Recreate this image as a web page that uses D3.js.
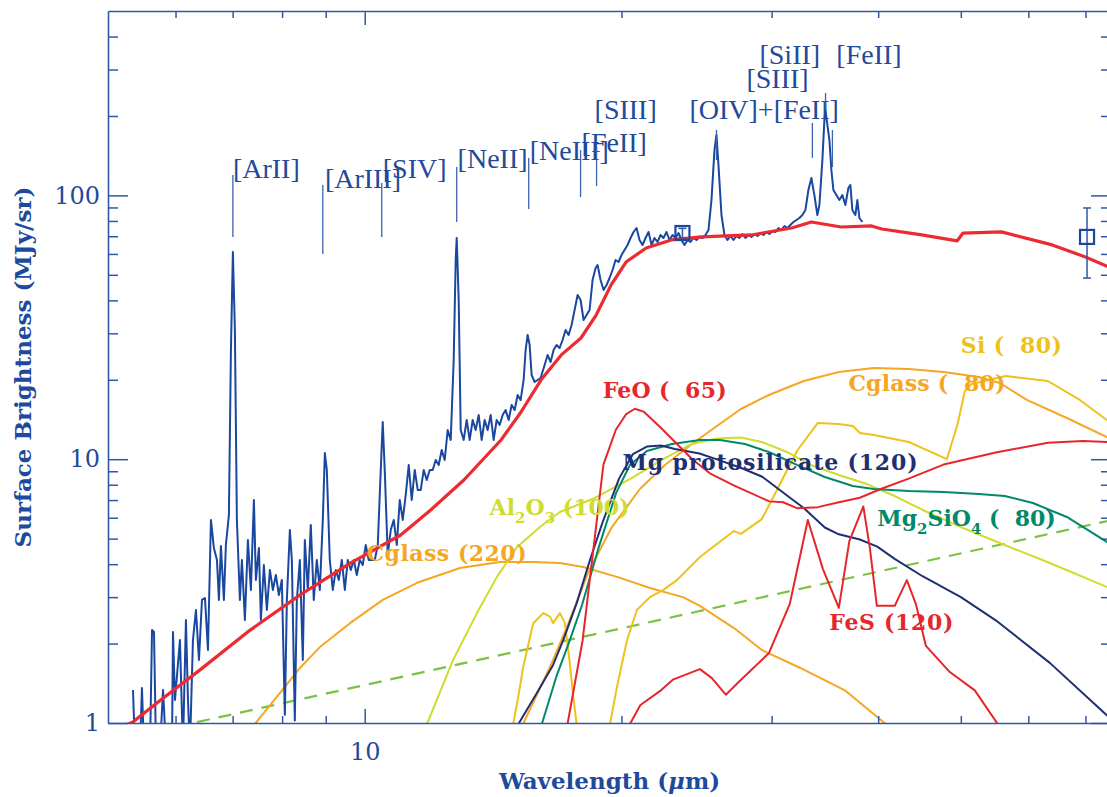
<!DOCTYPE html>
<html>
<head>
<meta charset="utf-8">
<script src="https://cdn.jsdelivr.net/npm/d3@7"></script>
<style>
body { margin: 0; background: #fff; }
svg { display: block; }
</style>
</head>
<body>
<svg id="chart" width="1107" height="797"></svg>
<script>
// observed spectrum [wavelength um, MJy/sr]
var spectrum = [[5.349,1.334],[5.378,0.8],[5.451,0.8],[5.480,1.357],[5.510,0.8],[5.601,0.8],[5.631,2.252],[5.661,2.213],[5.692,0.8],[5.754,0.8],[5.801,1.334],[5.848,0.8],[5.943,0.8],[5.959,2.213],[5.991,1.222],[6.072,2.063],[6.121,0.8],[6.171,2.457],[6.205,1.222],[6.238,0.8],[6.289,2.063],[6.340,2.681],[6.392,1.733],[6.444,2.927],[6.496,2.978],[6.549,1.891],[6.602,5.883],[6.655,4.608],[6.710,4.150],[6.746,2.927],[6.782,4.690],[6.837,2.927],[6.874,4.731],[6.930,6.146],[6.968,25.94],[7.005,61.0],[7.043,30.89],[7.081,5.883],[7.139,2.927],[7.178,4.150],[7.236,2.457],[7.295,4.942],[7.354,3.194],[7.414,7.005],[7.454,3.485],[7.515,4.608],[7.555,2.457],[7.616,3.973],[7.678,2.681],[7.741,3.803],[7.804,3.194],[7.867,3.641],[7.931,3.057],[7.995,3.485],[8.060,1.074],[8.104,2.927],[8.170,5.392],[8.214,4.150],[8.280,1.023],[8.325,2.927],[8.393,4.150],[8.461,1.733],[8.507,4.942],[8.576,3.194],[8.645,5.632],[8.715,2.927],[8.786,4.150],[8.858,3.194],[8.930,5.883],[8.979,10.56],[9.027,9.102],[9.100,4.150],[9.174,3.194],[9.248,3.803],[9.324,3.485],[9.400,4.150],[9.477,3.194],[9.553,4.150],[9.631,3.803],[9.709,4.150],[9.788,3.641],[9.867,4.150],[9.947,3.973],[10.028,4.731],[10.110,4.150],[10.192,4.150],[10.275,4.150],[10.359,4.731],[10.442,9.102],[10.498,13.84],[10.555,9.102],[10.641,4.335],[10.728,5.392],[10.815,5.883],[10.904,4.731],[10.992,7.005],[11.081,5.883],[11.171,7.318],[11.262,9.507],[11.353,7.005],[11.445,9.102],[11.538,7.644],[11.632,7.644],[11.727,9.102],[11.823,8.341],[11.918,9.102],[12.015,9.102],[12.113,9.930],[12.211,9.507],[12.310,10.84],[12.410,9.930],[12.511,12.90],[12.613,11.83],[12.715,23.77],[12.784,56.89],[12.819,68.94],[12.888,40.13],[12.958,12.90],[13.063,11.83],[13.169,14.08],[13.276,11.83],[13.384,14.08],[13.492,12.90],[13.602,14.71],[13.713,11.83],[13.824,14.08],[13.936,12.90],[14.050,14.71],[14.164,11.83],[14.279,14.08],[14.395,13.48],[14.512,14.71],[14.630,15.37],[14.749,14.08],[14.869,16.05],[14.990,15.37],[15.111,17.51],[15.234,16.76],[15.358,19.97],[15.441,25.94],[15.525,29.57],[15.609,27.09],[15.693,20.85],[15.820,19.62],[15.949,19.97],[16.078,20.32],[16.253,22.76],[16.385,24.83],[16.518,23.36],[16.652,25.94],[16.787,27.09],[16.924,26.39],[17.061,28.30],[17.200,30.89],[17.340,29.57],[17.481,32.26],[17.623,36.78],[17.767,41.92],[17.911,40.13],[18.057,33.70],[18.203,35.21],[18.351,36.78],[18.500,47.78],[18.651,53.06],[18.752,54.46],[18.904,47.78],[19.058,43.79],[19.213,45.74],[19.368,48.62],[19.525,52.14],[19.684,56.89],[19.844,55.91],[20.005,59.43],[20.167,62.08],[20.331,64.85],[20.497,68.94],[20.664,72.64],[20.832,75.22],[21.001,67.74],[21.172,64.85],[21.344,68.94],[21.518,72.64],[21.692,64.85],[21.868,68.94],[22.045,66.57],[22.225,70.76],[22.405,68.94],[22.587,72.64],[22.771,67.74],[22.956,70.76],[23.143,68.94],[23.331,72.01],[23.521,67.74],[23.712,64.85],[23.905,67.74],[24.099,66.57],[24.295,68.94],[24.493,67.74],[24.691,69.53],[24.892,68.94],[25.095,70.76],[25.299,73.92],[25.503,96.06],[25.710,148.6],[25.849,169.4],[25.989,130.4],[26.201,84.26],[26.413,70.76],[26.628,67.74],[26.844,70.15],[27.062,67.74],[27.282,70.15],[27.504,68.94],[27.727,71.39],[27.953,68.94],[28.180,70.76],[28.410,69.53],[28.641,71.39],[28.873,70.15],[29.108,72.01],[29.345,70.76],[29.583,72.64],[29.823,71.39],[30.066,73.27],[30.310,72.64],[30.556,75.22],[30.804,73.92],[31.055,76.55],[31.307,75.22],[31.561,77.22],[31.818,79.27],[32.076,80.67],[32.337,82.09],[32.599,84.26],[32.864,88.01],[33.131,104.8],[33.400,116.4],[33.671,100.3],[33.944,84.26],[34.130,91.96],[34.407,136.2],[34.593,193.2],[34.686,210.7],[34.874,184.9],[35.063,162.2],[35.253,124.8],[35.443,104.8],[35.731,100.3],[36.022,96.06],[36.314,100.3],[36.609,91.96],[36.907,106.6],[37.107,109.5],[37.307,88.01],[37.611,84.26],[37.814,96.06],[38.019,82.09],[38.327,79.27]]

// total dust model
var totalModel = [[5.2,0.97],[5.35,1.01],[5.76,1.22],[6.41,1.59],[7.34,2.25],[8.40,3.06],[9.62,4.04],[11.02,5.16],[11.95,6.42],[13.07,8.34],[14.44,11.8],[15.25,15.1],[16.10,20.0],[16.99,24.8],[17.93,28.8],[18.68,35.2],[19.45,45.8],[20.25,55.9],[21.38,63.2],[22.88,67.8],[24.81,69.6],[28.4,70.8],[31.66,75.2],[33.4,79.3],[36.2,75.9],[39.3,76.6],[40.4,74.6],[45.0,70.8],[49.5,67.2],[50.3,72.0],[55.8,72.7],[64.0,64.9],[70.0,58.4],[75.0,53.1]]

// dust components
var feo = [[17.25,0.95],[18.01,2.06],[19.05,9.54],[19.70,12.93],[20.26,14.83],[20.74,15.53],[21.23,15.15],[22.26,13.13],[23.33,11.27],[24.23,9.98],[25.39,8.84],[27.12,7.94],[29.81,6.92],[30.94,6.87],[32.13,6.52],[33.99,6.58],[35.97,6.87],[38.07,7.14],[40.28,7.71],[43.43,8.44],[47.72,9.54],[54.95,10.61],[63.28,11.55],[69.55,11.73],[75,11.6]]
var mgProto = [[15.14,0.99],[15.91,1.296],[16.63,1.66],[17.09,2.06],[17.72,2.84],[18.37,4.15],[19.03,5.83],[19.87,8.44],[20.63,10.46],[21.42,11.17],[22.25,11.27],[23.11,10.93],[24.69,10.51],[25.88,9.98],[27.64,9.26],[29.25,8.58],[30.94,7.48],[32.74,6.52],[34.63,5.51],[35.97,5.19],[38.07,4.96],[39.90,4.66],[41.82,4.19],[45.09,3.60],[50.01,3.00],[54.95,2.45],[63.58,1.69],[74.15,1.07],[75,1.04]]
var mg2sio4 = [[16.13,0.99],[16.80,1.52],[17.40,2.06],[17.98,2.80],[18.77,4.53],[19.71,7.44],[20.46,9.51],[21.42,10.74],[22.92,11.42],[24.72,11.82],[26.09,11.82],[27.91,11.42],[29.78,10.65],[32.12,9.51],[34.63,8.56],[37.36,7.91],[39.54,7.71],[43.45,7.58],[47.75,7.51],[52.49,7.38],[56.30,7.25],[60.73,6.82],[66.57,6.04],[74.15,4.86],[75,4.75]]
var al2o3 = [[11.83,0.99],[12.69,1.73],[13.54,2.61],[14.29,3.58],[15.09,4.65],[16.05,5.53],[16.94,6.31],[18.62,7.13],[20.46,8.41],[22.49,10.10],[24.19,11.42],[25.88,11.98],[27.61,12.09],[29.22,11.62],[31.26,10.65],[33.36,9.51],[35.97,8.71],[38.80,8.05],[41.83,7.25],[45.12,6.42],[50.01,5.53],[55.54,4.81],[63.58,4.04],[74.15,3.28],[75,3.22]]
var si80 = [[19.39,0.99],[19.76,1.37],[20.30,2.06],[20.85,2.68],[21.60,3.00],[22.37,3.19],[23.23,3.48],[24.72,4.26],[27.10,5.34],[27.61,5.21],[29.22,5.93],[30.35,7.51],[32.12,10.74],[33.99,13.72],[35.97,13.60],[37.36,13.36],[38.07,12.57],[39.54,12.35],[43.45,11.62],[48.15,10.0],[49.60,13.72],[50.54,18.14],[51.50,19.28],[56.45,20.67],[63.24,19.79],[68.95,16.77],[74.15,14.08],[75,13.8]]
var siBump = [[14.93,0.99],[15.14,1.26],[15.34,1.63],[15.76,2.39],[16.19,2.61],[16.49,2.53],[16.63,2.39],[16.94,2.61],[17.17,2.39],[17.40,1.68],[17.56,1.26],[17.72,0.99]]
var cglass80 = [[15.33,0.99],[16.49,1.63],[17.26,2.31],[18.27,3.70],[19.49,5.53],[21.02,7.71],[22.49,9.51],[24.19,11.42],[25.88,13.36],[27.61,15.50],[29.78,17.51],[32.72,19.79],[35.97,21.41],[39.54,22.17],[43.45,21.98],[47.75,21.41],[52.49,20.49],[55.54,19.45],[59.75,16.77],[66.57,14.33],[74.15,12.14],[75,11.9]]
var cglass220 = [[7.43,0.99],[8.00,1.33],[8.40,1.62],[8.86,1.94],[9.61,2.39],[10.50,2.93],[11.52,3.40],[12.93,3.87],[14.40,4.08],[15.75,4.08],[16.94,4.04],[18.03,3.90],[19.76,3.58],[21.60,3.25],[23.61,3.00],[24.72,2.78],[27.10,2.29],[29.22,1.89],[32.37,1.62],[36.56,1.33],[40.84,0.99]]
var fes = [[20.46,0.99],[21.05,1.17],[22.25,1.33],[22.98,1.46],[24.72,1.60],[25.53,1.48],[26.51,1.28],[27.39,1.42],[29.78,1.84],[31.51,2.83],[33.08,5.88],[34.45,3.84],[35.97,2.73],[37.01,4.90],[38.43,6.62],[39.11,4.61],[39.86,2.78],[41.83,2.78],[43.22,3.48],[44.28,2.83],[45.50,1.96],[48.54,1.56],[51.92,1.33],[55.25,0.99]]
var powerLaw = [[6.0,0.967],[75,5.87]]

// photometry points (wavelength, value, low, high)
var photometry = [[23.58,72.0,69.0,75.0],[70.3,69.6,48.6,89.6]]

// line identifications
var lineNames = ['[ArII]','[ArIII]','[SIV]','[NeII]','[NeIII]','[FeII]','[SIII]','[OIV]+[FeII]','[SIII]','[SiII]','[FeII]']
var lineWl = [7.005,8.93,10.47,12.82,15.57,17.91,18.70,25.85,33.49,34.70,35.35]
var lineTop = [119.5,109.5,111.4,128.1,138.6,148.6,152.6,177.0,188.2,244.5,177.0]
var lineBottom = [69.5,60.0,69.5,79.3,88.8,98.6,108.5,136.2,138.6,210.0,128.1]
var lineLabelWl = [7.005,8.98,10.50,12.85,15.61,17.96,18.60,24.03,28.03,29.03,35.73]
var lineLabelF = [116.4,106.6,116.4,127.0,136.2,146.1,194.9,194.9,255.4,314.9,314.9]

// component labels: text pieces [text, subscript?], anchor wavelength, anchor value
var compLabels = [
    {parts: [['FeO (\u2007' + '65)', 0]], wl: 19.01, f: 17.06, color: '#e6262b', len: 124},
    {parts: [['Cglass (\u2007' + '80)', 0]], wl: 36.91, f: 18.13, color: '#f5a623', len: 157},
    {parts: [['Si (\u2007' + '80)', 0]], wl: 50.0, f: 25.27, color: '#eec21b', len: 101},
    {parts: [['Mg protosilicate (120)', 0]], wl: 20.06, f: 9.10, color: '#1f2f72', len: 295},
    {parts: [['Mg', 0], ['2', 1], ['SiO', 0], ['4', 1], [' (\u2007' + '80)', 0]], wl: 39.91, f: 5.583, color: '#00896a'},
    {parts: [['Al', 0], ['2', 1], ['O', 0], ['3', 1], [' (100)', 0]], wl: 14.01, f: 6.146, color: '#cfdc2a'},
    {parts: [['Cglass (220)', 0]], wl: 10.05, f: 4.114, color: '#f5a623', len: 160},
    {parts: [['FeS (120)', 0]], wl: 35.06, f: 2.252, color: '#e6262b', len: 124}
]

var xTicks = [6, 7, 8, 9, 10, 20, 30, 40, 50, 60, 70]
var yTicks = [1, 2, 3, 4, 5, 6, 7, 8, 9, 10, 20, 30, 40, 50, 60, 70, 80, 90, 100, 200, 300, 400]

var svg = d3.select('#chart')
var margin = {left: 108, right: 1111, top: 11, bottom: 723}
var axisColor = '#2d59a8'
var textColor = '#1f4a9b'

var xscale = d3.scaleLog().domain([5, 75]).range([margin.left, margin.right])
var yscale = d3.scaleLog().domain([1, 500]).range([margin.bottom, margin.top])

svg.append('clipPath').attr('id', 'plotclip')
    .append('rect')
    .attr('x', margin.left).attr('y', margin.top)
    .attr('width', margin.right - margin.left)
    .attr('height', margin.bottom - margin.top)

var line = d3.line()
    .x(function (d) { return xscale(d[0]) })
    .y(function (d) { return yscale(d[1]) })

var plot = svg.append('g').attr('clip-path', 'url(#plotclip)')

plot.append('path')
    .attr('d', line(powerLaw))
    .attr('fill', 'none')
    .attr('stroke', '#7cc242')
    .attr('stroke-width', 2.2)
    .attr('stroke-dasharray', '13,9')

var comps = [
    [cglass220, '#f5a623'],
    [siBump, '#eec21b'],
    [si80, '#eec21b'],
    [cglass80, '#f5a623'],
    [al2o3, '#cfdc2a'],
    [mg2sio4, '#00896a'],
    [mgProto, '#1f2f72'],
    [feo, '#e6262b'],
    [fes, '#e6262b']
]
comps.forEach(function (c) {
    plot.append('path')
        .attr('d', line(c[0]))
        .attr('fill', 'none')
        .attr('stroke', c[1])
        .attr('stroke-width', 2)
        .attr('stroke-linejoin', 'round')
})

plot.append('path')
    .attr('d', line(spectrum))
    .attr('fill', 'none')
    .attr('stroke', '#1a47a0')
    .attr('stroke-width', 2)
    .attr('stroke-linejoin', 'round')

plot.append('path')
    .attr('d', line(totalModel))
    .attr('fill', 'none')
    .attr('stroke', '#ec2a30')
    .attr('stroke-width', 3.2)
    .attr('stroke-linejoin', 'round')

// photometry squares with error bars
var phot = svg.append('g')
photometry.forEach(function (p) {
    var px = xscale(p[0]), py = yscale(p[1])
    phot.append('line')
        .attr('x1', px).attr('x2', px)
        .attr('y1', yscale(p[2])).attr('y2', yscale(p[3]))
        .attr('stroke', '#2d59a8').attr('stroke-width', 1.5)
    ;[p[2], p[3]].forEach(function (v) {
        phot.append('line')
            .attr('x1', px - 4).attr('x2', px + 4)
            .attr('y1', yscale(v)).attr('y2', yscale(v))
            .attr('stroke', '#2d59a8').attr('stroke-width', 1.5)
    })
    phot.append('rect')
        .attr('x', px - 7).attr('y', py - 7)
        .attr('width', 14).attr('height', 14)
        .attr('fill', 'none')
        .attr('stroke', '#1a47a0').attr('stroke-width', 2.2)
})

// line identification marks
var ids = svg.append('g')
lineNames.forEach(function (name, i) {
    ids.append('line')
        .attr('x1', xscale(lineWl[i])).attr('x2', xscale(lineWl[i]))
        .attr('y1', yscale(lineTop[i])).attr('y2', yscale(lineBottom[i]))
        .attr('stroke', '#3a63b0').attr('stroke-width', 1.3)
    ids.append('text')
        .attr('x', xscale(lineLabelWl[i]))
        .attr('y', yscale(lineLabelF[i]))
        .attr('font-family', 'Liberation Serif, serif')
        .attr('font-size', 28)
        .attr('fill', textColor)
        .text(name)
})

// component labels
compLabels.forEach(function (l) {
    var t = svg.append('text')
        .attr('x', xscale(l.wl))
        .attr('y', yscale(l.f))
        .attr('font-family', 'DejaVu Serif, serif')
        .attr('font-weight', 'bold')
        .attr('font-size', 22)
        .attr('fill', l.color)
        .attr('xml:space', 'preserve')
    if (l.len) {
        t.attr('textLength', l.len).attr('lengthAdjust', 'spacing').text(l.parts[0][0])
        return
    }
    var sub = 0
    l.parts.forEach(function (p) {
        var shift = p[1] ? 8 : 0
        t.append('tspan')
            .attr('dy', shift - sub)
            .attr('font-size', p[1] ? 15 : 22)
            .text(p[0])
        sub = shift
    })
})

// axes
function styleAxis(g) {
    g.select('.domain').attr('stroke', axisColor).attr('stroke-width', 1.6)
    g.selectAll('.tick line').attr('stroke', axisColor).attr('stroke-width', 1.5)
    g.selectAll('.tick text')
        .attr('font-family', 'DejaVu Serif, serif')
        .attr('font-size', 24)
        .attr('fill', textColor)
}
var xMajor = function (d) { return d === 10 }
var yMajor = function (d) { return d === 1 || d === 10 || d === 100 }

var gx = svg.append('g')
    .attr('transform', 'translate(0,' + margin.bottom + ')')
    .call(d3.axisBottom(xscale).tickValues(xTicks).tickSize(-7).tickSizeOuter(0).tickPadding(20)
        .tickFormat(function (d) { return xMajor(d) ? '10' : '' }))
gx.selectAll('.tick line').filter(xMajor).attr('y2', -14)
styleAxis(gx)

var gxt = svg.append('g')
    .attr('transform', 'translate(0,' + margin.top + ')')
    .call(d3.axisTop(xscale).tickValues(xTicks).tickSize(-7).tickSizeOuter(0).tickFormat(''))
gxt.selectAll('.tick line').filter(xMajor).attr('y2', 14)
styleAxis(gxt)

var gy = svg.append('g')
    .attr('transform', 'translate(' + margin.left + ',0)')
    .call(d3.axisLeft(yscale).tickValues(yTicks).tickSize(-10).tickSizeOuter(0).tickPadding(8)
        .tickFormat(function (d) { return yMajor(d) ? String(d) : '' }))
gy.selectAll('.tick line').filter(yMajor).attr('x2', 20)
styleAxis(gy)

var gyr = svg.append('g')
    .attr('transform', 'translate(' + margin.right + ',0)')
    .call(d3.axisRight(yscale).tickValues(yTicks).tickSize(-10).tickSizeOuter(0).tickFormat(''))
gyr.selectAll('.tick line').filter(yMajor).attr('x2', -20)
styleAxis(gyr)

// axis titles
var xt = svg.append('text')
    .attr('x', (margin.left + margin.right) / 2)
    .attr('y', 789)
    .attr('text-anchor', 'middle')
    .attr('font-family', 'DejaVu Serif, serif')
    .attr('font-weight', 'bold')
    .attr('font-size', 23)
    .attr('fill', textColor)
xt.append('tspan').text('Wavelength (')
xt.append('tspan').attr('font-style', 'italic').text('\u03bc')
xt.append('tspan').text('m)')

svg.append('text')
    .attr('transform', 'translate(31,' + (margin.top + margin.bottom) / 2 + ') rotate(-90)')
    .attr('text-anchor', 'middle')
    .attr('font-family', 'DejaVu Serif, serif')
    .attr('font-weight', 'bold')
    .attr('font-size', 23)
    .attr('fill', textColor)
    .text('Surface Brightness (MJy/sr)')
</script>
</body>
</html>
